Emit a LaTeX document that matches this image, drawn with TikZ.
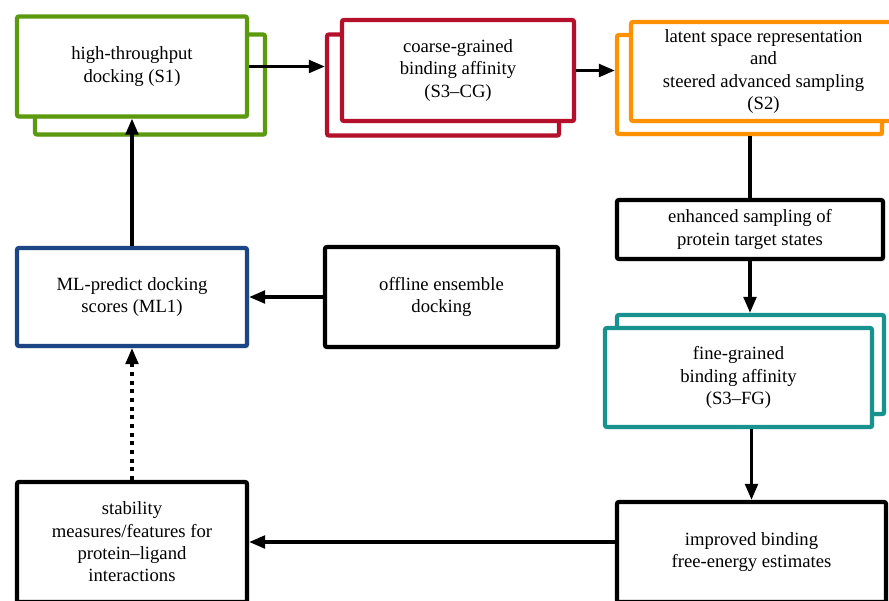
\documentclass[tikz,border=0pt]{standalone}
\usepackage{fontspec}
\setmainfont{Liberation Serif}
\usetikzlibrary{shadows,arrows.meta}
\definecolor{cgreen}{HTML}{5B9A0C}
\definecolor{cred}{HTML}{B4102B}
\definecolor{corange}{HTML}{FF9200}
\definecolor{cblue}{HTML}{1C4585}
\definecolor{cteal}{HTML}{17928E}
\tikzset{
  box/.style={draw, line width=3.2pt, fill=white, rounded corners=1.5pt, inner sep=0pt,
    align=center, font=\rmfamily\fontsize{14pt}{16.7pt}\selectfont,
    drop shadow={opacity=0.35, shadow xshift=1.5pt, shadow yshift=-1.5pt}},
  wA/.style={minimum width=172.5pt},
  arr/.style={line width=2.4pt, -{Triangle[length=12pt,width=9.5pt]}},
  plain/.style={line width=2.4pt},
  dotarr/.style={line width=2.4pt, dash pattern=on 3pt off 3.5pt, -{Triangle[length=12pt,width=9.5pt]}}
}
\begin{document}
\begin{tikzpicture}[x=0.75pt, y=-0.75pt]
\useasboundingbox (0,0) rectangle (889,600);
\clip (0,0) rectangle (889,600);
% S1 (green)
\node[box, draw=cgreen, wA, minimum height=75pt] (s1b) at (150,84.5) {};
\node[box, draw=cgreen, wA, minimum height=75pt] (s1f) at (132,66.5) {\raisebox{-2pt}{\parbox{160pt}{\centering high-throughput\\docking (S1)}}};
% S3-CG (red)
\node[box, draw=cred, minimum width=174pt, minimum height=75.75pt] (cgb) at (443,85) {};
\node[box, draw=cred, minimum width=174pt, minimum height=75.75pt] (cgf) at (458,70.5) {coarse-grained\\binding affinity\\(S3–CG)};
% S2 (orange)
\node[box, draw=corange, minimum width=198.75pt, minimum height=74.25pt] (s2b) at (749.5,84.5) {};
\node[box, draw=corange, minimum width=198.75pt, minimum height=74.25pt] (s2f) at (763.5,71.5) {latent space representation\\and\\steered advanced sampling\\(S2)};
% enhanced sampling
\node[box, draw=black, minimum width=199.5pt, minimum height=44.25pt] (enh) at (750,229.5) {enhanced sampling of\\protein target states};
% S3-FG (teal)
\node[box, draw=cteal, minimum width=200.25pt, minimum height=74.25pt] (fgb) at (750.5,364.5) {};
\node[box, draw=cteal, minimum width=200.25pt, minimum height=74.25pt] (fgf) at (738.5,377.5) {fine-grained\\binding affinity\\(S3–FG)};
% improved
\node[box, draw=black, minimum width=201.75pt, minimum height=75pt] (imp) at (751.5,552) {improved binding\\free-energy estimates};
% stability
\node[box, draw=black, wA, minimum height=90pt] (stab) at (132,542) {stability\\measures/features for\\protein–ligand\\interactions};
% ML1 (blue)
\node[box, draw=cblue, wA, minimum height=73.5pt] (ml) at (132,297) {ML-predict docking\\scores (ML1)};
% offline
\node[box, draw=black, minimum width=174.75pt, minimum height=75pt] (off) at (441.5,297) {offline ensemble\\docking};
% connectors
\draw[arr] (s1f.east) -- (s1f.east -| cgb.west);
\draw[arr] (cgf.east) -- (cgf.east -| s2b.west);
\draw[plain] (enh.north) -- (enh.north |- s2b.south);
\draw[arr] (enh.south) -- (enh.south |- fgb.north);
\draw[arr] (imp.north |- fgf.south) -- (imp.north);
\draw[arr] (imp.west |- stab.east) -- (stab.east);
\draw[dotarr] (stab.north) -- (ml.south);
\draw[arr] (off.west) -- (ml.east);
\draw[arr] (ml.north) -- (s1f.south);
\end{tikzpicture}
\end{document}
